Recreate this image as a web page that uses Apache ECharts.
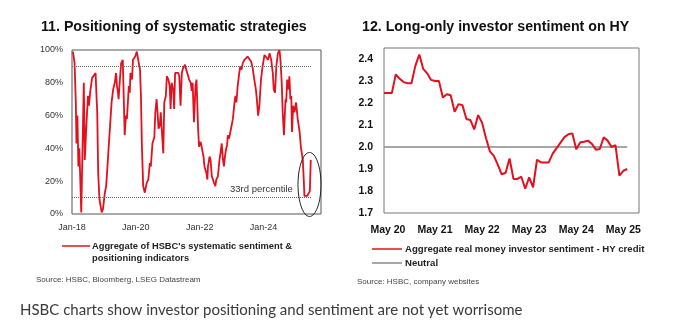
<!DOCTYPE html>
<html>
<head>
<meta charset="utf-8">
<script src="https://cdn.jsdelivr.net/npm/echarts@6/dist/echarts.min.js"></script>
<style>
html,body{margin:0;padding:0;background:#fff;}
#c{width:673px;height:330px;}
</style>
</head>
<body>
<div id="c"></div>
<script>
// ---------- Chart 11: positioning of systematic strategies ----------
const leftYears = [
2018.03,2018.08,2018.12,2018.14,2018.17,2018.20,2018.23,2018.29,2018.37,2018.40,
2018.45,2018.50,2018.53,2018.58,2018.63,2018.69,2018.74,2018.75,2018.79,2018.82,
2018.86,2018.93,2018.97,2019.03,2019.07,2019.15,2019.18,2019.24,2019.29,2019.34,
2019.38,2019.41,2019.44,2019.46,2019.50,2019.54,2019.59,2019.62,2019.65,2019.69,
2019.72,2019.78,2019.81,2019.83,2019.88,2019.91,2019.98,2020.03,2020.06,2020.11,
2020.13,2020.16,2020.19,2020.23,2020.28,2020.34,2020.39,2020.44,2020.47,2020.52,
2020.58,2020.61,2020.65,2020.68,2020.71,2020.75,2020.78,2020.81,2020.86,2020.89,
2020.94,2020.97,2021.02,2021.06,2021.09,2021.12,2021.17,2021.20,2021.23,2021.28,
2021.33,2021.36,2021.40,2021.44,2021.48,2021.54,2021.58,2021.61,2021.67,2021.72,
2021.75,2021.78,2021.82,2021.87,2021.90,2021.95,2021.98,2022.03,2022.08,2022.12,
2022.15,2022.21,2022.24,2022.26,2022.31,2022.34,2022.38,2022.45,2022.49,2022.52,
2022.57,2022.62,2022.65,2022.69,2022.73,2022.76,2022.79,2022.83,2022.86,2022.88,
2022.92,2022.96,2022.98,2023.04,2023.09,2023.12,2023.15,2023.19,2023.24,2023.27,
2023.31,2023.35,2023.40,2023.45,2023.50,2023.55,2023.61,2023.66,2023.71,2023.76,
2023.79,2023.83,2023.87,2023.92,2023.97,2024.03,2024.08,2024.14,2024.19,2024.24,
2024.29,2024.32,2024.36,2024.40,2024.45,2024.50,2024.53,2024.57,2024.60,2024.64,
2024.67,2024.69,2024.71,2024.74,2024.78,2024.81,2024.84,2024.87,2024.89,2024.93,
2024.97,2025.02,2025.05,2025.07,2025.10,2025.13,2025.17,2025.23,2025.26,2025.28,
2025.33,2025.37,2025.41,2025.45,2025.48
];
const leftValues = [
99,92,68,43,60,29,40,1,80,33,
54,72,66,76,83,84,86,80,62,25,
9,1,3,13,17,41,50,68,76,80,
86,78,74,70,82,92,94,72,48,60,
58,78,74,86,82,94,96,99,100,90,
88,72,41,17,13,19,21,31,29,43,
47,62,70,62,52,54,62,52,37,68,
72,84,82,78,64,80,76,64,86,85,
86,84,66,86,89,91,88,86,82,80,
75,80,56,78,82,52,41,44,39,35,
29,25,21,29,35,33,23,19,17,21,
23,33,37,43,33,29,35,40,42,48,
46,46,52,58,68,72,68,78,86,90,
88,92,94,95,96,96,93,89,82,76,
70,60,66,82,90,97,98,94,98,94,
86,76,74,90,98,100,94,80,62,48,
62,70,68,82,76,84,70,72,50,66,
62,68,62,58,54,50,41,33,21,11,
10,11,10,14,33
];
const leftRefLevels = [90, 10];
const leftTitle = '11. Positioning of systematic strategies';
const leftLegend = "Aggregate of HSBC's systematic sentiment &\npositioning indicators";
const leftSource = 'Source: HSBC, Bloomberg, LSEG Datastream';
const leftNote = '33rd percentile';

// ---------- Chart 12: long-only investor sentiment on HY ----------
const rightMonths = [
'Apr 20','May 20','Jun 20','Jul 20','Aug 20','Sep 20','Oct 20','Nov 20','Dec 20',
'Jan 21','Feb 21','Mar 21','Apr 21','May 21','Jun 21','Jul 21','Aug 21','Sep 21','Oct 21','Nov 21','Dec 21',
'Jan 22','Feb 22','Mar 22','Apr 22','May 22','Jun 22','Jul 22','Aug 22','Sep 22','Oct 22','Nov 22','Dec 22',
'Jan 23','Feb 23','Mar 23','Apr 23','May 23','Jun 23','Jul 23','Aug 23','Sep 23','Oct 23','Nov 23','Dec 23',
'Jan 24','Feb 24','Mar 24','Apr 24','May 24','Jun 24','Jul 24','Aug 24','Sep 24','Oct 24','Nov 24','Dec 24',
'Jan 25','Feb 25','Mar 25','Apr 25','May 25','Jun 25','Jul 25','Aug 25','Sep 25'
];
const rightValues = [
2.245,2.245,2.245,2.33,2.31,2.295,2.29,2.29,2.37,
2.42,2.355,2.335,2.305,2.30,2.30,2.225,2.24,2.235,2.16,2.195,2.19,
2.127,2.123,2.08,2.145,2.11,2.04,1.98,1.96,1.92,1.876,1.883,1.948,
1.855,1.855,1.865,1.81,1.862,1.817,1.942,1.93,1.93,1.93,1.97,1.995,
2.02,2.045,2.058,2.062,1.99,2.02,2.024,2.029,2.014,1.988,1.991,2.044,
2.029,2.0,2.009,1.87,1.892,1.90
];
const neutralValues = rightValues.map(() => 2.0);
const rightTitle = '12. Long-only investor sentiment on HY';
const rightLegend1 = 'Aggregate real money investor sentiment - HY credit';
const rightLegend2 = 'Neutral';
const rightSource = 'Source: HSBC, company websites';
const caption = 'HSBC charts show investor positioning and sentiment are not yet worrisome';

const FONT = '"Liberation Sans", Arial, sans-serif';
const RED = '#e3101e';

const chart = echarts.init(document.getElementById('c'), null, {renderer: 'canvas'});

const option = {
  animation: false,
  backgroundColor: '#fff',
  title: [
    {text: leftTitle, left: 36, top: 15, textStyle: {fontFamily: FONT, fontSize: 14.2, fontWeight: 'bold', color: '#111'}},
    {text: rightTitle, left: 357, top: 15, textStyle: {fontFamily: FONT, fontSize: 14.2, fontWeight: 'bold', color: '#111'}}
  ],
  grid: [
    {left: 72, top: 50, width: 249, height: 164, show: true, borderColor: '#555', borderWidth: 1, backgroundColor: 'transparent'},
    {left: 384, top: 48, width: 255, height: 165, show: true, borderColor: '#777', borderWidth: 1, backgroundColor: 'transparent'}
  ],
  xAxis: [
    {
      type: 'value', gridIndex: 0, min: 2018, max: 2025.8, interval: 2,
      axisLine: {show: false}, axisTick: {show: false}, splitLine: {show: false},
      axisLabel: {
        showMaxLabel: false, margin: 9, color: '#333', fontFamily: FONT, fontSize: 9,
        formatter: v => 'Jan-' + String(Math.round(v)).slice(2)
      }
    },
    {
      type: 'category', gridIndex: 1, data: rightMonths, boundaryGap: false,
      axisLine: {show: false}, axisTick: {show: false}, splitLine: {show: false},
      axisLabel: {
        margin: 12, color: '#111', fontFamily: FONT, fontSize: 10.5, fontWeight: 'bold',
        interval: (i, v) => v.indexOf('May') === 0
      }
    }
  ],
  yAxis: [
    {
      type: 'value', gridIndex: 0, min: 0, max: 100, interval: 20,
      axisLine: {show: false}, axisTick: {show: false}, splitLine: {show: false},
      axisLabel: {margin: 9, color: '#333', fontFamily: FONT, fontSize: 9, formatter: v => v + '%'}
    },
    {
      type: 'value', gridIndex: 1, min: 1.7, max: 2.45, interval: 0.1,
      axisLine: {show: false}, axisTick: {show: false}, splitLine: {show: false},
      axisLabel: {showMaxLabel: false, margin: 11, color: '#111', fontFamily: FONT, fontSize: 10.5, fontWeight: 'bold',
        formatter: v => v.toFixed(1)}
    }
  ],
  series: [
    {
      name: 'Aggregate of HSBC systematic indicators',
      type: 'line', xAxisIndex: 0, yAxisIndex: 0,
      data: leftYears.map((t, i) => [t, leftValues[i]]),
      showSymbol: false, symbol: 'none',
      lineStyle: {color: RED, width: 1.8},
      z: 3,
      markLine: {
        silent: true, symbol: 'none', label: {show: false},
        lineStyle: {type: 'dotted', color: '#666', width: 1},
        data: leftRefLevels.map(l => [{coord: [2018, l]}, {coord: [2025.51, l]}])
      }
    },
    {
      name: rightLegend2,
      type: 'line', xAxisIndex: 1, yAxisIndex: 1,
      data: neutralValues, showSymbol: false, symbol: 'none',
      lineStyle: {color: '#8a8a8a', width: 1.5}, z: 2
    },
    {
      name: rightLegend1,
      type: 'line', xAxisIndex: 1, yAxisIndex: 1,
      data: rightValues, showSymbol: false, symbol: 'none',
      lineStyle: {color: RED, width: 2}, z: 3
    }
  ]
};
chart.setOption(option);

// annotations positioned from data coordinates
const ellC = chart.convertToPixel({gridIndex: 0}, [2025.44, 18]);
const noteP = chart.convertToPixel({gridIndex: 0}, [2022.95, 15.2]);

chart.setOption({
  graphic: [
    {type: 'ellipse', shape: {cx: ellC[0], cy: ellC[1], rx: 11.5, ry: 32},
     style: {fill: 'none', stroke: '#222', lineWidth: 1}, z: 10},
    {type: 'text', x: noteP[0], y: noteP[1],
     style: {text: leftNote, fontFamily: FONT, fontSize: 9.5, fill: '#333', textVerticalAlign: 'middle'}, z: 10},
    // left legend
    {type: 'line', shape: {x1: 62, y1: 246, x2: 90, y2: 246}, style: {stroke: RED, lineWidth: 1.5}},
    {type: 'text', x: 92, y: 240, style: {text: leftLegend, fontFamily: FONT, fontSize: 9.3, fontWeight: 'bold', fill: '#222', lineHeight: 12.5}},
    {type: 'text', x: 36, y: 280, style: {text: leftSource, fontFamily: FONT, fontSize: 8, fill: '#444', textVerticalAlign: 'middle'}},
    // right legend
    {type: 'line', shape: {x1: 372, y1: 249, x2: 402, y2: 249}, style: {stroke: RED, lineWidth: 1.5}},
    {type: 'text', x: 405, y: 249, style: {text: rightLegend1, fontFamily: FONT, fontSize: 9.6, fontWeight: 'bold', fill: '#222', textVerticalAlign: 'middle'}},
    {type: 'line', shape: {x1: 372, y1: 263, x2: 402, y2: 263}, style: {stroke: '#8a8a8a', lineWidth: 1.5}},
    {type: 'text', x: 405, y: 263, style: {text: rightLegend2, fontFamily: FONT, fontSize: 9.6, fontWeight: 'bold', fill: '#222', textVerticalAlign: 'middle'}},
    {type: 'text', x: 357, y: 282, style: {text: rightSource, fontFamily: FONT, fontSize: 8, fill: '#444', textVerticalAlign: 'middle'}},
    // caption
    {type: 'text', x: 20, y: 310, style: {text: caption, fontFamily: 'Lato, "Open Sans", sans-serif', fontSize: 15, fill: '#3a3a3a', textVerticalAlign: 'middle'}}
  ]
});
</script>
</body>
</html>
